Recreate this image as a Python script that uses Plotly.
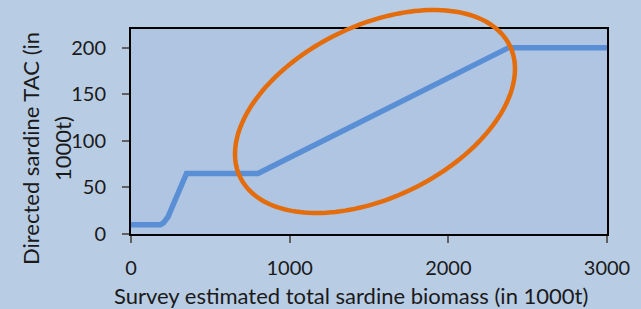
import numpy as np
import plotly.graph_objects as go

# Data
biomass = [0, 185, 205, 220, 235, 277, 320, 350, 800, 2380, 3000]
tac = [10, 10, 12, 15, 19, 36, 54, 65, 65, 200, 200]

x_ticks = [0, 1000, 2000, 3000]
y_ticks = [0, 50, 100, 150, 200]

x_title = "Survey estimated total sardine biomass (in 1000t)"
y_title_lines = ["Directed sardine TAC (in", "1000t)"]

# Highlight ellipse (paper-relative centre, semi-axes in px, tilt in degrees)
ell_cx, ell_cy = 0.5126, 0.5976
ell_a, ell_b, ell_deg = 150.0, 86.0, 26.0

W, H = 641, 309
ml, mr, mt, mb = 131, 34, 29, 75
pw, ph = W - ml - mr, H - mt - mb

FONT = "Lato"
TXT = "#1a1a1a"

fig = go.Figure()
fig.add_trace(go.Scatter(
    x=biomass, y=tac, mode="lines",
    line=dict(color="#5a8fd5", width=5.5),
    hoverinfo="skip", showlegend=False,
))

t = np.linspace(0, 2 * np.pi, 181)
th = np.deg2rad(ell_deg)
u = ell_a * np.cos(t) * np.cos(th) - ell_b * np.sin(t) * np.sin(th)
v = ell_a * np.cos(t) * np.sin(th) + ell_b * np.sin(t) * np.cos(th)
px = ell_cx + u / pw
py = ell_cy + v / ph
path = "M " + " L ".join(f"{a:.5f},{b:.5f}" for a, b in zip(px, py)) + " Z"
fig.add_shape(type="path", path=path, xref="paper", yref="paper",
              line=dict(color="#e46c0a", width=4.5))

fig.update_xaxes(
    range=[0, 3000], tickvals=x_ticks, ticks="outside", ticklen=7,
    tickcolor="#606060", tickwidth=1.5, showgrid=False, zeroline=False,
    showline=True, linecolor="black", linewidth=2, mirror=True,
    tickfont=dict(family=FONT, size=20, color=TXT), ticklabelstandoff=8,
)
fig.update_yaxes(
    range=[0, 220], tickvals=y_ticks, ticks="outside", ticklen=7,
    tickcolor="#606060", tickwidth=1.5, showgrid=False, zeroline=False,
    showline=True, linecolor="black", linewidth=2, mirror=True,
    tickfont=dict(family=FONT, size=20, color=TXT), ticklabelstandoff=12,
)

fig.add_annotation(text=x_title, xref="paper", yref="paper",
                   x=(351 - ml) / pw, y=-(295 - mt - ph) / ph,
                   showarrow=False, xanchor="center", yanchor="middle",
                   font=dict(family=FONT, size=22, color=TXT))
for line_txt, cx in zip(y_title_lines, [30, 62]):
    fig.add_annotation(text=line_txt, xref="paper", yref="paper",
                       x=(cx - ml) / pw, y=(mt + ph - 149) / ph,
                       showarrow=False, xanchor="center", yanchor="middle",
                       textangle=-90,
                       font=dict(family=FONT, size=22, color=TXT))

fig.update_layout(
    width=W, height=H,
    margin=dict(l=ml, r=mr, t=mt, b=mb),
    paper_bgcolor="#b8cce4",
    plot_bgcolor="#afc5e1",
    showlegend=False,
)

fig.write_html("out.html", config={"displayModeBar": False},
               post_script="document.body.style.margin='0';document.body.style.padding='0';")
